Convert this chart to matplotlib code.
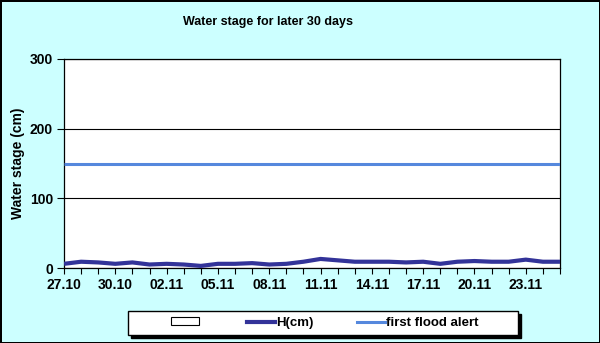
import matplotlib
matplotlib.use("Agg")
import matplotlib.pyplot as plt
from matplotlib.patches import Patch, Rectangle
from matplotlib.lines import Line2D
from matplotlib.ticker import FixedLocator, MultipleLocator

plt.rcParams['font.family'] = ['Liberation Sans', 'DejaVu Sans']
plt.rcParams['font.weight'] = 'bold'

dates = ["27.10", "28.10", "29.10", "30.10", "31.10", "01.11", "02.11", "03.11",
         "04.11", "05.11", "06.11", "07.11", "08.11", "09.11", "10.11", "11.11",
         "12.11", "13.11", "14.11", "15.11", "16.11", "17.11", "18.11", "19.11",
         "20.11", "21.11", "22.11", "23.11", "24.11", "25.11"]
h_cm = [6, 9, 8, 6, 8, 5, 6, 5, 3, 6, 6, 7, 5, 6, 9, 13,
        11, 9, 9, 9, 8, 9, 6, 9, 10, 9, 9, 12, 9, 9]
flood_alert = [150] * len(dates)

W, H = 600, 343
bg = "#CCFFFF"
fig = plt.figure(figsize=(W / 100, H / 100), dpi=100)
fig.patch.set_facecolor(bg)
fig.patch.set_edgecolor("black")
fig.patch.set_linewidth(2)

ax = fig.add_axes([64 / W, 1 - 268 / H, (560 - 64) / W, (268 - 59) / H])
ax.set_facecolor("white")

x = list(range(len(dates)))
ax.plot(x, h_cm, color="#333399", lw=3.0, solid_capstyle="butt", zorder=3)
ax.plot(x, flood_alert, color="#5588DD", lw=2.2, solid_capstyle="butt", zorder=3)

ax.set_xlim(0, len(dates) - 1)
ax.set_ylim(0, 300)
ax.yaxis.set_major_locator(MultipleLocator(100))
ax.yaxis.grid(True, color="black", lw=0.8)
ax.set_axisbelow(True)

major = x[::3]
ax.xaxis.set_major_locator(FixedLocator(major))
ax.set_xticklabels([dates[i] for i in major])
ax.xaxis.set_minor_locator(FixedLocator([i for i in x if i not in major]))
ax.tick_params(axis="x", which="both", direction="out", length=4, width=0.8,
               labelsize=10, pad=3)
ax.tick_params(axis="y", direction="out", length=5, width=0.8, labelsize=10, pad=3)
for lab in ax.get_xticklabels() + ax.get_yticklabels():
    lab.set_fontweight("bold")

for s in ax.spines.values():
    s.set_color("black")
    s.set_linewidth(0.9)

ax.set_ylabel("Water stage (cm)", fontsize=10, fontweight="bold")
ax.yaxis.set_label_coords(-39 / 496, 0.5)
fig.text(268 / W, 1 - 22 / H, "Water stage for later 30 days",
         ha="center", va="center", fontsize=9, fontweight="bold")

# legend box with a solid drop shadow
bx0, bx1, by0, by1 = 128, 518, 311, 335
fig.add_artist(Rectangle(((bx0 + 3) / W, 1 - (by1 + 3) / H), (bx1 - bx0) / W,
                         (by1 - by0) / H, transform=fig.transFigure,
                         facecolor="black", edgecolor="black", zorder=5))
fig.add_artist(Rectangle((bx0 / W, 1 - by1 / H), (bx1 - bx0) / W,
                         (by1 - by0) / H, transform=fig.transFigure,
                         facecolor="white", edgecolor="black", lw=1.0, zorder=6))

handles = [Patch(facecolor="white", edgecolor="black", lw=0.8, label=" "),
           Line2D([], [], color="#333399", lw=3.0, label="H(cm)"),
           Line2D([], [], color="#5588DD", lw=2.2, label="first flood alert")]
leg = fig.legend(handles=handles, ncol=3, loc="center",
                 bbox_to_anchor=((bx0 + bx1) / 2 / W + 2 / W, 1 - (by0 + by1) / 2 / H),
                 frameon=False, fontsize=9.5, handlelength=2.1, handleheight=0.55,
                 handletextpad=0.1, columnspacing=3.3, borderpad=0, borderaxespad=0)
leg.set_zorder(7)
for t in leg.get_texts():
    t.set_fontweight("bold")

fig.savefig("out.png", dpi=100, facecolor=bg, edgecolor="black")
